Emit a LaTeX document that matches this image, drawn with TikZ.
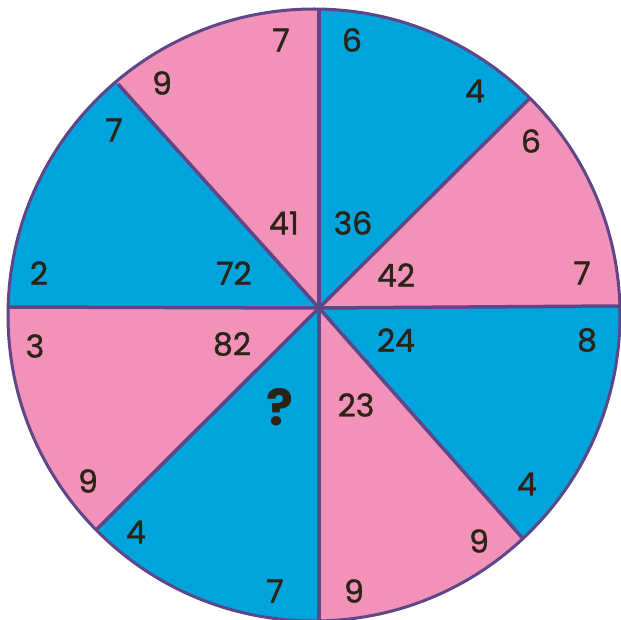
\documentclass[tikz,border=0pt]{standalone}
\usepackage{fontspec}
\setmainfont{Poppins}
\newfontfamily\numfont{Poppins}[FakeBold=1.2]
\usetikzlibrary{calc}
\definecolor{wblue}{HTML}{00A4DD}
\definecolor{wpink}{HTML}{F392B8}
\definecolor{wline}{HTML}{5E4689}
\definecolor{wtext}{HTML}{2B2416}
\tikzset{
  num/.style={text=wtext,font=\numfont\fontsize{31.5}{31.5}\selectfont,inner sep=0pt,anchor=center},
  qmark/.style={text=wtext,font=\fontsize{50}{50}\selectfont\bfseries,inner sep=0pt,anchor=center},
  spoke/.style={draw=wline,line width=3.5pt},
  rim/.style={draw=wline,line width=3pt}
}
\begin{document}
\begin{tikzpicture}[x=1pt,y=-1pt]
\useasboundingbox (0,0) rectangle (621,620);
\coordinate (O) at (314,315);
\coordinate (C) at (319,308);
\coordinate (T) at (319,9);
\coordinate (UR) at (529,99);
\coordinate (R) at (619,306);
\coordinate (LR) at (525,541);
\coordinate (B) at (319,625);
\coordinate (LL) at (95,531);
\coordinate (L) at (9,307);
\coordinate (UL) at (118,84);
\begin{scope}
  \clip (O) circle[radius=306pt];
  \fill[wblue] (O) circle[radius=306pt];
  \fill[wpink] (C) -- ($(C)!2!(UR)$) -- ($(C)!2!(R)$) -- cycle;
  \fill[wpink] (C) -- ($(C)!2!(LR)$) -- ($(C)!2!(B)$) -- cycle;
  \fill[wpink] (C) -- ($(C)!2!(LL)$) -- ($(C)!2!(L)$) -- cycle;
  \fill[wpink] (C) -- ($(C)!2!(UL)$) -- ($(C)!2!(T)$) -- cycle;
  \draw[spoke] (C) -- (T);
  \draw[spoke] (C) -- (UR);
  \draw[spoke] (C) -- (R);
  \draw[spoke] (C) -- (LR);
  \draw[spoke] (C) -- (B);
  \draw[spoke] (C) -- (LL);
  \draw[spoke] (C) -- (L);
  \draw[spoke] (C) -- (UL);
\end{scope}
\draw[rim] (O) circle[radius=306pt];
% top-right blue
\node[num] (a1) at (352,40) {6};
\node[num] (a2) at (475,91) {4};
\node[num] (a3) at (353,223) {36};
% right-upper pink
\node[num] (b1) at (531,141) {6};
\node[num] (b2) at (582,273) {7};
\node[num] (b3) at (396,275) {42};
% right-lower blue
\node[num] (c1) at (587,340) {8};
\node[num] (c2) at (527,484) {4};
\node[num] (c3) at (396,340) {24};
% bottom-right pink
\node[num] (d1) at (479,541) {9};
\node[num] (d2) at (354,591) {9};
\node[num] (d3) at (356,405) {23};
% bottom-left blue
\node[num] (e1) at (275,591) {7};
\node[num] (e2) at (136,532) {4};
\node[qmark] (e3) at (280,407) {?};
% left-lower pink
\node[num] (f1) at (88,481) {9};
\node[num] (f2) at (35,346) {3};
\node[num] (f3) at (232,344) {82};
% left-upper blue
\node[num] (g1) at (39,273) {2};
\node[num] (g2) at (114,130) {7};
\node[num] (g3) at (234,273) {72};
% top-left pink
\node[num] (h1) at (162,83) {9};
\node[num] (h2) at (281,40) {7};
\node[num] (h3) at (284,223) {41};
\end{tikzpicture}
\end{document}
